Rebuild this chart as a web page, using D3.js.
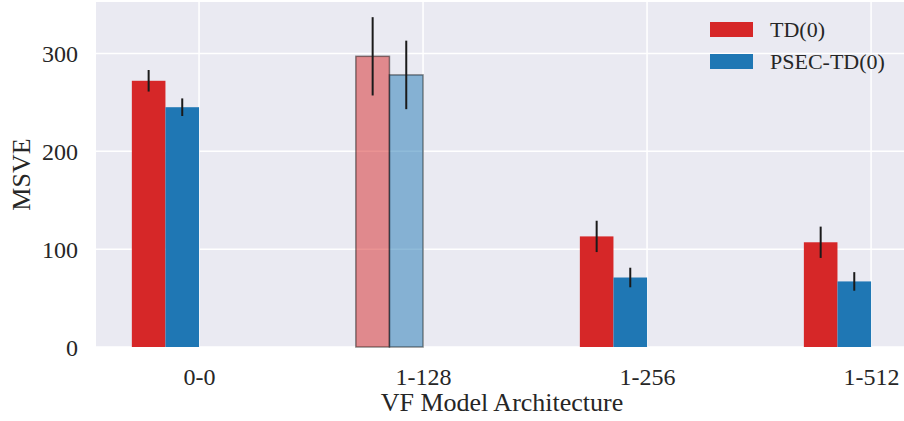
<html>
<meta charset="utf-8">
<head>
<script src="https://cdn.jsdelivr.net/npm/d3@7"></script>
<style>
  body { margin: 0; background: #fff; }
  text { font-family: "Liberation Serif", "DejaVu Serif", serif; fill: #262626; }
</style>
</head>
<body>
<svg id="chart" width="904" height="421"></svg>
<script>
// data
var categories = ["0-0", "1-128", "1-256", "1-512"];
var tdValues   = [272, 297, 113, 107];
var tdErrors   = [11, 40, 16, 16];
var psecValues = [245, 278, 71, 67];
var psecErrors = [9, 35, 10, 9.5];
var yTicks     = [0, 100, 200, 300];
var seriesNames = ["TD(0)", "PSEC-TD(0)"];
var fadedCategory = "1-128";

var colors = ["#d62728", "#1f77b4"];
var svg = d3.select("#chart");

var plot = { left: 96, right: 904, top: 2, bottom: 347 };

var xScale = d3.scaleLinear()
  .domain([-0.46, 3.147])
  .range([plot.left, plot.right]);
var yScale = d3.scaleLinear()
  .domain([0, 352.5])
  .range([plot.bottom, plot.top]);

var barW = xScale(0.15) - xScale(0);

// background
svg.append("rect")
  .attr("x", plot.left).attr("y", plot.top)
  .attr("width", plot.right - plot.left)
  .attr("height", plot.bottom - plot.top)
  .attr("fill", "#eaeaf2");

// grid
svg.append("g").selectAll("line")
  .data(yTicks).enter().append("line")
  .attr("x1", plot.left).attr("x2", plot.right)
  .attr("y1", function(d){ return yScale(d); })
  .attr("y2", function(d){ return yScale(d); })
  .attr("stroke", "#fff").attr("stroke-width", 1.5);
svg.append("g").selectAll("line")
  .data(categories).enter().append("line")
  .attr("x1", function(d,i){ return xScale(i); })
  .attr("x2", function(d,i){ return xScale(i); })
  .attr("y1", plot.top).attr("y2", plot.bottom)
  .attr("stroke", "#fff").attr("stroke-width", 1.5);

// bars
var series = [
  { values: tdValues, errors: tdErrors, offset: -2 },
  { values: psecValues, errors: psecErrors, offset: -1 }
];

series.forEach(function(s, si) {
  var g = svg.append("g");
  g.selectAll("rect")
    .data(categories).enter().append("rect")
    .attr("x", function(d,i){ return xScale(i) + s.offset * barW; })
    .attr("y", function(d,i){ return yScale(s.values[i]); })
    .attr("width", barW)
    .attr("height", function(d,i){ return yScale(0) - yScale(s.values[i]); })
    .attr("fill", colors[si])
    .attr("fill-opacity", function(d){ return d == fadedCategory ? 0.5 : 1; })
    .attr("stroke", function(d){ return d == fadedCategory ? "rgba(0,0,0,0.45)" : "none"; })
    .attr("stroke-width", 1.5);

  g.selectAll("line")
    .data(categories).enter().append("line")
    .attr("x1", function(d,i){ return xScale(i) + (s.offset + 0.5) * barW; })
    .attr("x2", function(d,i){ return xScale(i) + (s.offset + 0.5) * barW; })
    .attr("y1", function(d,i){ return yScale(s.values[i] + s.errors[i]); })
    .attr("y2", function(d,i){ return yScale(s.values[i] - s.errors[i]); })
    .attr("stroke", "#1a1a1a")
    .attr("stroke-width", 2);
});

// axes
var xAxis = d3.axisBottom(xScale)
  .tickValues(d3.range(categories.length))
  .tickFormat(function(d){ return categories[d]; })
  .tickSize(0).tickPadding(0);
var gx = svg.append("g")
  .attr("transform", "translate(0," + plot.bottom + ")")
  .call(xAxis);
gx.select(".domain").remove();
gx.selectAll("text")
  .attr("dy", null).attr("y", 38)
  .style("font-size", "24px");

var yAxis = d3.axisLeft(yScale).tickValues(yTicks).tickSize(0).tickPadding(0);
var gy = svg.append("g")
  .attr("transform", "translate(78,0)")
  .call(yAxis);
gy.select(".domain").remove();
gy.selectAll("text")
  .attr("x", 0).attr("dy", "0.35em")
  .style("font-size", "24px");

// axis titles
svg.append("text")
  .attr("x", (plot.left + plot.right) / 2 + 2)
  .attr("y", 411)
  .attr("text-anchor", "middle")
  .style("font-size", "26px")
  .text("VF Model Architecture");
svg.append("text")
  .attr("transform", "translate(30," + ((plot.top + plot.bottom) / 2) + ") rotate(-90)")
  .attr("text-anchor", "middle")
  .style("font-size", "26px")
  .text("MSVE");

// legend
var legend = svg.append("g").attr("transform", "translate(710,22)");
seriesNames.forEach(function(name, i) {
  legend.append("rect")
    .attr("x", 0).attr("y", i * 32)
    .attr("width", 43).attr("height", 15)
    .attr("fill", colors[i]);
  legend.append("text")
    .attr("x", 60).attr("y", i * 32 + 7.5)
    .attr("dy", "0.35em")
    .style("font-size", "22px")
    .text(name);
});
</script>
</body>
</html>
